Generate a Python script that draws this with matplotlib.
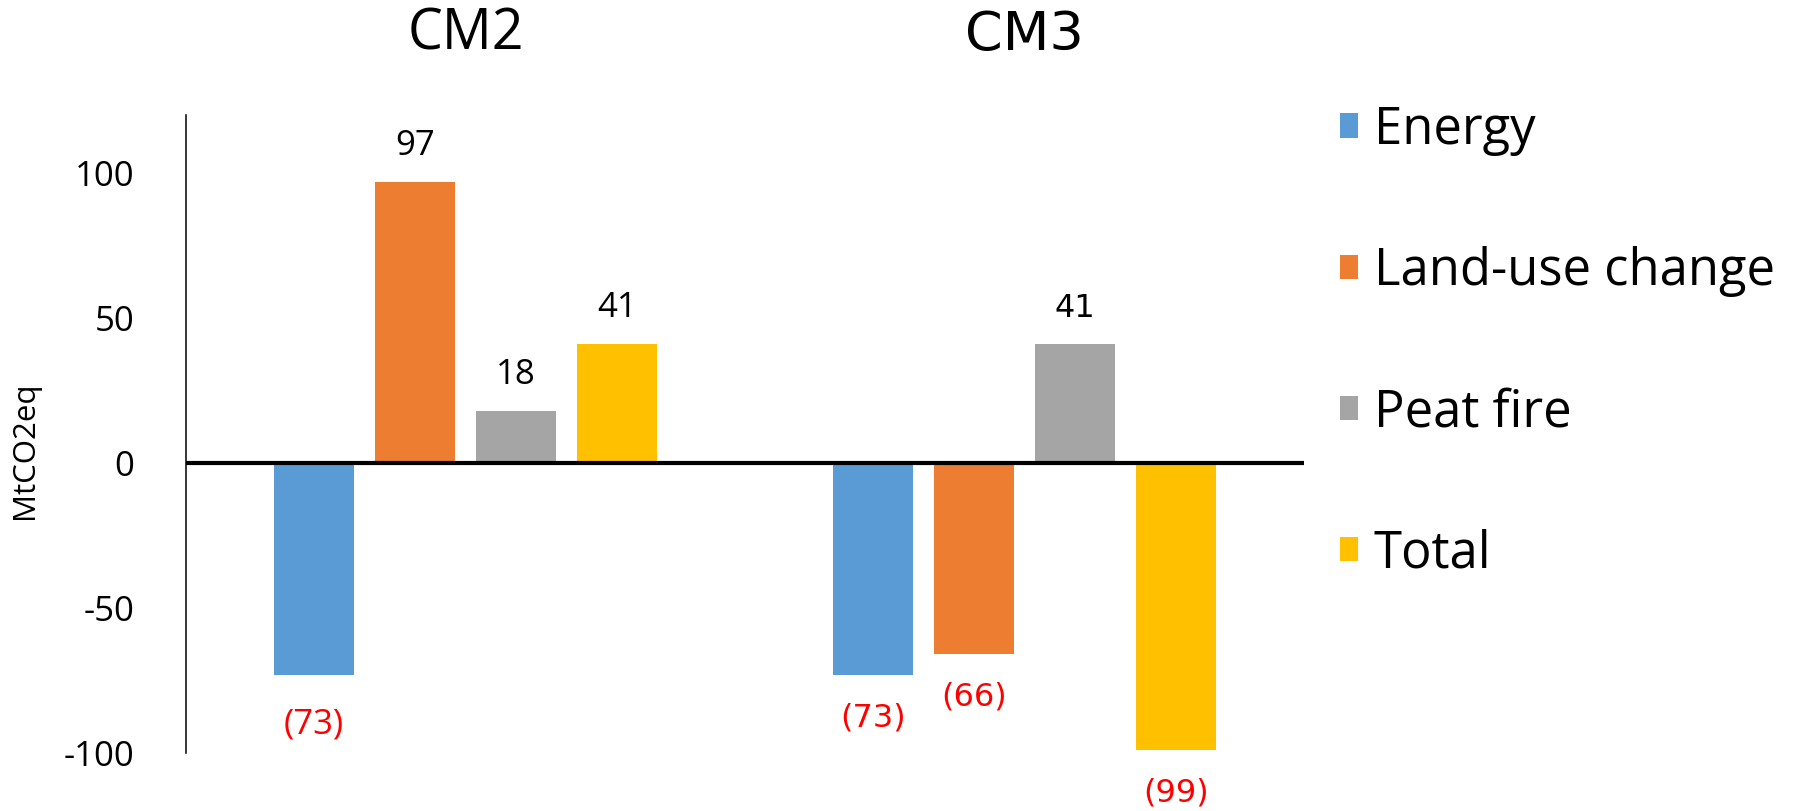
import matplotlib
matplotlib.use("Agg")
import matplotlib.pyplot as plt
from matplotlib.patches import Patch
import numpy as np

# Emission changes by source for each scenario (MtCO2eq)
scenarios = ["CM2", "CM3"]
sources = ["Energy", "Land-use change", "Peat fire", "Total"]
cm2_values = [-73, 97, 18, 41]
cm3_values = [-73, -66, 41, -99]
colors = ["#5B9BD5", "#ED7D31", "#A5A5A5", "#FFC000"]
yticks = [-100, -50, 0, 50, 100]

main_font = "Open Sans"
alt_font = "DejaVu Sans"

fig = plt.figure(figsize=(17.98, 8.11), dpi=100)
ax = fig.add_axes([0.1034, 0.0715, 0.6219, 0.7865])

pitch = 0.181
width = 0.143
values_by_group = [cm2_values, cm3_values]
group_fonts = [main_font, alt_font]
group_sizes = [25, 23]
title_sizes = [40, 39]
neg_offsets = [-36, -31]

for g, vals in enumerate(values_by_group):
    for i, v in enumerate(vals):
        x = g + (i - 1.5) * pitch
        ax.bar(x, v, width=width, color=colors[i], zorder=2)
        if v >= 0:
            txt, color, dy = f"{v}", "black", 26
        else:
            txt, color, dy = f"({abs(v)})", "#FF0000", neg_offsets[g]
        ax.annotate(txt, (x, v), xytext=(0, dy), textcoords="offset points",
                    ha="center", va="center", color=color,
                    fontsize=group_sizes[g], family=group_fonts[g])
    ax.text(g, 1.125, scenarios[g], transform=ax.get_xaxis_transform(),
            ha="center", va="center", fontsize=title_sizes[g], family=group_fonts[g])

ax.axhline(0, color="black", linewidth=3, zorder=3)

ax.set_xlim(-0.5, 1.5)
ax.set_ylim(-100, 120)
ax.set_yticks(yticks)
ax.set_yticklabels([str(t) for t in yticks], family=main_font, fontsize=25)
ax.tick_params(axis="y", length=0, pad=37)
ax.set_xticks([])
for side in ["top", "right", "bottom"]:
    ax.spines[side].set_visible(False)
ax.spines["left"].set_linewidth(1.1)
ax.spines["left"].set_bounds(-100, 120)

fig.text(0.014, 0.445, "MtCO2eq", rotation=90, ha="center", va="center",
         fontsize=22.5, family=main_font)

handles = [Patch(facecolor=c, edgecolor="none") for c in colors]
fig.legend(handles, sources, loc="upper left", bbox_to_anchor=(0.745, 0.871),
           frameon=False, prop={"family": main_font, "size": 36.5},
           handlelength=0.36, handleheight=0.36, handletextpad=0.32,
           labelspacing=1.78, borderaxespad=0, borderpad=0)

fig.savefig("out.png", dpi=100)
